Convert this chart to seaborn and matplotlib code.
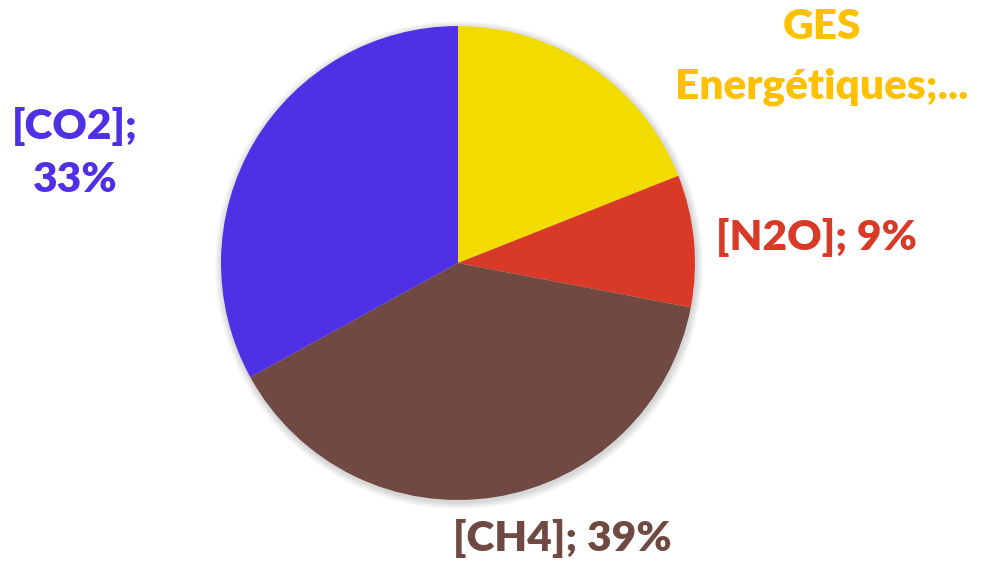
import matplotlib
matplotlib.use("Agg")
import matplotlib.pyplot as plt
import seaborn as sns
from matplotlib.patches import Circle

categories = ["GES Energétiques", "[N2O]", "[CH4]", "[CO2]"]
values = [19, 9, 39, 33]
labels = ["GES\nEnergétiques;...", "[N2O]; 9%", "[CH4]; 39%", "[CO2];\n33%"]
wedge_colors = ["#F2DC00", "#D93A28", "#6F4942", "#5030E5"]
label_colors = ["#FFC000", "#D93A28", "#6F4942", "#5030E5"]

sns.set_theme(style="white")
plt.rcParams["font.family"] = ["Lato", "DejaVu Sans"]

W, H = 984, 561
fig = plt.figure(figsize=(W / 100, H / 100), dpi=100)
ax = fig.add_axes([0, 0, 1, 1])

cx, cy, r = 458, H - 263, 237

# soft shadow
for i in range(8):
    ax.add_patch(Circle((cx + 1, cy - 2), r + 1 + i * 0.9, color="black",
                        alpha=0.018, lw=0, zorder=0))

ax.pie(values, colors=wedge_colors, startangle=90, counterclock=False,
       center=(cx, cy), radius=r, wedgeprops=dict(linewidth=0),
       frame=True)

label_pos = [(822, H - 57), (817, H - 237), (562, H - 538), (75, H - 153)]
spacings = [1.7, 1.5, 1.5, 1.5]
for lab, col, (x, y), ls in zip(labels, label_colors, label_pos, spacings):
    ax.text(x, y, lab, color=col, fontsize=30.5, fontweight="heavy",
            ha="center", va="center", linespacing=ls)

ax.set_xlim(0, W)
ax.set_ylim(0, H)
ax.set_aspect("auto")
ax.axis("off")
fig.savefig("out.png", dpi=100, facecolor="white")
